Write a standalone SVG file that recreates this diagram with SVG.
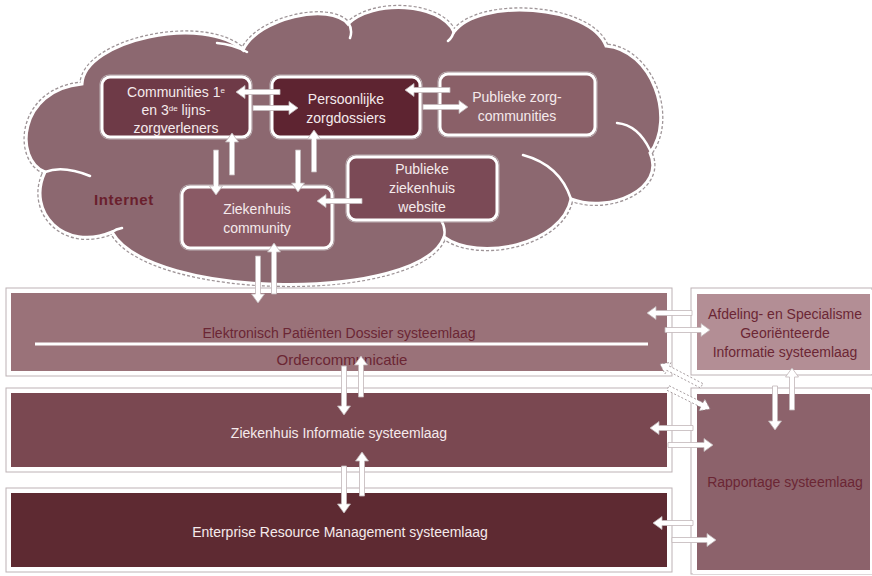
<svg xmlns="http://www.w3.org/2000/svg" xmlns:xlink="http://www.w3.org/1999/xlink" width="872" height="576" viewBox="0 0 872 576">
<style>
.t{font-family:"Liberation Sans",Arial,sans-serif;font-size:14px;text-anchor:middle}
.lt{fill:#f5eaec}
.dk{fill:#6b2634}
.nb{stroke:#fff;stroke-width:3}
.sh{fill:none;stroke:#bdb2b5;stroke-width:1}
.lay{stroke:#fff;stroke-width:4}
.arr{fill:#fff;stroke:#c2b6b9;stroke-width:0.8}
.dash{stroke:#9d9295;stroke-dasharray:2 2}
.curl{fill:none;stroke:#fff;stroke-width:2.5;stroke-linecap:round}
</style>
<defs>
<path id="cloudp" d="M45,172 C14,160 18,90 82,84 C84,40 205,14 243,50 C258,18 330,2 348,24 C372,0 440,2 454,32 C478,-2 590,4 606,46 C652,50 676,118 650,153 C666,188 610,214 571,199 C562,245 478,262 444,237 C420,302 150,300 112,232 C64,252 26,212 45,172 Z"/>
</defs>
<rect width="872" height="576" fill="#fff"/>

<g id="cloud">
<use xlink:href="#cloudp" fill="none" stroke="#9e9497" stroke-width="5.5" stroke-dasharray="3 2"/>
<use xlink:href="#cloudp" fill="#8c6870" stroke="#fff" stroke-width="3"/>
<path class="curl" d="M247,52 Q232,44 217,43 M348,22 Q353,30 350,38 M454,30 Q453,37 448,41 M650,150 Q638,125 617,123 M571,199 Q560,165 523,155 M444,237 Q446,228 441,220 M112,232 Q116,229 122,228 M45,172 Q63,165 90,176"/>
<text class="t" x="124" y="205" style="font-size:15px;font-weight:bold;letter-spacing:0.6px;fill:#6a1f2d">Internet</text>
</g>

<g id="communities">
<rect class="sh" x="100" y="75" width="152" height="64" rx="9"/>
<rect class="nb" x="102" y="77" width="148" height="60" rx="8" fill="#6e3a47"/>
<text class="t lt" x="176" y="97">Communities 1<tspan font-size="8" baseline-shift="super">e</tspan></text>
<text class="t lt" x="176" y="115">en 3<tspan font-size="8" baseline-shift="super">de</tspan> lijns-</text>
<text class="t lt" x="176" y="133">zorgverleners</text>
</g>

<g id="persoonlijke">
<rect class="sh" x="270" y="75" width="152" height="64" rx="9"/>
<rect class="nb" x="272" y="77" width="148" height="60" rx="8" fill="#5e2431"/>
<text class="t lt" x="346" y="104">Persoonlijke</text>
<text class="t lt" x="346" y="123">zorgdossiers</text>
</g>

<g id="publieke-zorg">
<rect class="sh" x="438" y="72" width="159" height="65" rx="9"/>
<rect class="nb" x="440" y="74" width="155" height="61" rx="8" fill="#8a6068"/>
<text class="t lt" x="517" y="102">Publieke zorg-</text>
<text class="t lt" x="517" y="121">communities</text>
</g>

<g id="website">
<rect class="sh" x="346" y="155" width="153" height="67" rx="9"/>
<rect class="nb" x="348" y="157" width="149" height="63" rx="8" fill="#7b4a56"/>
<text class="t lt" x="422" y="174">Publieke</text>
<text class="t lt" x="422" y="193">ziekenhuis</text>
<text class="t lt" x="422" y="212">website</text>
</g>

<g id="ziekenhuis-community">
<rect class="sh" x="180" y="185" width="154" height="65" rx="9"/>
<rect class="nb" x="182" y="187" width="150" height="61" rx="8" fill="#8a5a65"/>
<text class="t lt" x="257" y="214">Ziekenhuis</text>
<text class="t lt" x="257" y="233">community</text>
</g>

<g id="epd">
<rect class="sh" x="6" y="288" width="666" height="88"/>
<rect class="lay" x="9" y="291" width="660" height="82" fill="#9a7279"/>
<line x1="35" y1="344" x2="648" y2="344" stroke="#fff" stroke-width="3"/>
<text class="t dk" x="339" y="338">Elektronisch Patiënten Dossier systeemlaag</text>
<text class="t dk" x="342" y="365" style="font-size:15px">Ordercommunicatie</text>
</g>

<g id="zis">
<rect class="sh" x="6" y="388" width="666" height="84"/>
<rect class="lay" x="9" y="391" width="660" height="78" fill="#7a4851"/>
<text class="t lt" x="339" y="438">Ziekenhuis Informatie systeemlaag</text>
</g>

<g id="erm">
<rect class="sh" x="6" y="488" width="666" height="84"/>
<rect class="lay" x="9" y="491" width="660" height="78" fill="#5e2a32"/>
<text class="t lt" x="340" y="537">Enterprise Resource Management systeemlaag</text>
</g>

<g id="afdeling">
<rect class="sh" x="691" y="288" width="181" height="87"/>
<rect class="lay" x="695" y="292" width="177" height="80" fill="#b38e95"/>
<text class="t dk" x="785" y="319">Afdeling- en Specialisme</text>
<text class="t dk" x="785" y="338">Georiënteerde</text>
<text class="t dk" x="785" y="357">Informatie systeemlaag</text>
</g>

<g id="rapportage">
<rect class="sh" x="691" y="388" width="181" height="186"/>
<rect class="lay" x="695" y="392" width="177" height="180" fill="#8c626b"/>
<text class="t dk" x="785" y="487">Rapportage systeemlaag</text>
</g>

<g id="connectors" class="arr">
<path d="M280,89.5 H245 V85.5 L236,92 L245,98.5 V94.5 H280 Z"/>
<path d="M253,105.5 H289 V101.5 L298,108 L289,114.5 V110.5 H253 Z"/>
<path d="M450,87.5 H414 V83.5 L405,90 L414,96.5 V92.5 H450 Z"/>
<path d="M423,104.5 H459 V100.5 L468,107 L459,113.5 V109.5 H423 Z"/>
<path d="M213.5,150 V186 H209.5 L216,195 L222.5,186 H218.5 V150 Z"/>
<path d="M229.5,175 V142 H225.5 L232,133 L238.5,142 H234.5 V175 Z"/>
<path d="M295.5,150 V183 H291.5 L298,192 L304.5,183 H300.5 V150 Z"/>
<path d="M311.5,172 V139 H307.5 L314,130 L320.5,139 H316.5 V172 Z"/>
<path d="M362,198.5 H326 V194.5 L317,201 L326,207.5 V203.5 H362 Z"/>
<path d="M255.5,256 V294 H251.5 L258,303 L264.5,294 H260.5 V256 Z"/>
<path d="M271.5,294 V252 H267.5 L274,243 L280.5,252 H276.5 V294 Z"/>
<path d="M341.5,366 V406 H337.5 L344,415 L350.5,406 H346.5 V366 Z"/>
<path d="M358.5,397 V365 H354.5 L361,356 L367.5,365 H363.5 V397 Z"/>
<path d="M341.5,466 V504 H337.5 L344,513 L350.5,504 H346.5 V466 Z"/>
<path d="M359.5,496 V461 H355.5 L362,452 L368.5,461 H364.5 V496 Z"/>
<path d="M692,310.5 H656 V306.5 L647,313 L656,319.5 V315.5 H692 Z"/>
<path d="M665,327.5 H701 V323.5 L710,330 L701,336.5 V332.5 H665 Z"/>
<path d="M693,425.5 H659 V421.5 L650,428 L659,434.5 V430.5 H693 Z"/>
<path d="M668,442.5 H704 V438.5 L713,445 L704,451.5 V447.5 H668 Z"/>
<path d="M693,520.5 H662 V516.5 L653,523 L662,529.5 V525.5 H693 Z"/>
<path d="M672,537.5 H707 V533.5 L716,540 L707,546.5 V542.5 H672 Z"/>
<path d="M772.5,386 V421 H768.5 L775,430 L781.5,421 H777.5 V386 Z"/>
<path d="M789.5,410 V377 H785.5 L792,368 L798.5,377 H794.5 V410 Z"/>
<path class="dash" transform="translate(660,364) rotate(27.6)" d="M47,-2.5 H9 V-6.5 L0,0 L9,6.5 V2.5 H47 Z"/>
<path class="dash" transform="translate(710,409) rotate(26.6)" d="M-47,-2.5 H-9 V-6.5 L0,0 L-9,6.5 V2.5 H-47 Z"/>
</g>
</svg>
